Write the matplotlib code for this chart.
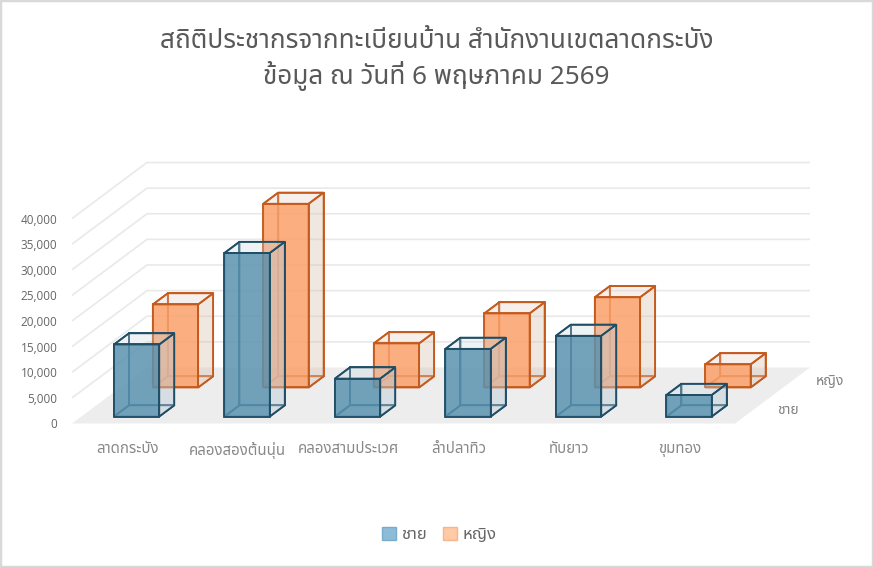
import matplotlib
matplotlib.use("Agg")
import matplotlib.pyplot as plt
from matplotlib import font_manager
from matplotlib.ft2font import FT2Font
from matplotlib.patches import Polygon, Patch, Rectangle

# Data
categories = ["ลาดกระบัง", "คลองสองต้นนุ่น", "คลองสามประเวศ", "ลำปลาทิว", "ทับยาว", "ขุมทอง"]
series_names = ["ชาย", "หญิง"]
male = [14050, 31900, 7400, 13200, 15750, 4200]
female = [16200, 35850, 8600, 14450, 17600, 4500]
yticks = [0, 5000, 10000, 15000, 20000, 25000, 30000, 35000, 40000]
title = "สถิติประชากรจากทะเบียนบ้าน สำนักงานเขตลาดกระบัง\nข้อมูล ณ วันที่ 6 พฤษภาคม 2569"


# Find an installed font that has Thai glyphs
def find_thai_font():
    preferred = ["Leelawadee UI", "Noto Sans Thai", "Noto Sans Thai UI", "Tahoma",
                 "Loma", "Garuda", "Sarabun", "Kinnari", "Norasi", "Umpush", "Waree"]
    found = []
    for f in font_manager.fontManager.ttflist:
        try:
            if 0x0E01 in FT2Font(f.fname).get_charmap():
                found.append(f.name)
        except Exception:
            pass
    for name in preferred:
        if name in found:
            return name
    return found[0] if found else None


thai = find_thai_font()
families = ([thai] if thai else []) + ["Open Sans", "DejaVu Sans"]
plt.rcParams["font.family"] = families

W, H = 873, 567
fig = plt.figure(figsize=(W / 100, H / 100), dpi=100)

# the axes is the front plane of the 3D box: x in categories, y in values
x0px, x1px, y0px, y1px = 72, 735, 423.5, 218.5
ax = fig.add_axes([x0px / W, 1 - y0px / H, (x1px - x0px) / W, (y0px - y1px) / H])
ncat = len(categories)
ax.set_xlim(0, ncat)
ax.set_ylim(0, 40000)
for s in ax.spines.values():
    s.set_visible(False)
ax.patch.set_alpha(0)

# depth offset of the full floor, in data units
px_per_cat = (x1px - x0px) / ncat
px_per_val = (y0px - y1px) / 40000
DX = 75 / px_per_cat
DY = 56 / px_per_val


def pt(x, d, v):
    return (x + d * DX, v + d * DY)


grid_c = "#e9e9e9"
floor = Polygon([pt(0, 0, 0), pt(ncat, 0, 0), pt(ncat, 1, 0), pt(0, 1, 0)],
                closed=True, fc="#ededed", ec="none", clip_on=False, zorder=1)
ax.add_patch(floor)
for v in yticks[1:]:
    ax.plot(*zip(pt(0, 0, v), pt(0, 1, v), pt(ncat, 1, v)), color=grid_c, lw=1.2,
            clip_on=False, zorder=1, solid_capstyle="butt")

bar_w = 0.41
bar_d = 0.2
depths = [0.125, 0.643]
styles = [
    dict(front="#5b93b0", side="#bcccd7", side_a=0.45, top="#c8d7e1", top_a=0.3,
         edge="#1f4e66"),
    dict(front="#fba06a", side="#dcc3b4", side_a=0.4, top="#e1c3b4", top_a=0.25,
         edge="#c55a1d"),
]


def draw_box(xc, d0, h, st, z):
    xa, xb = xc - bar_w / 2, xc + bar_w / 2
    d1 = d0 + bar_d
    ec = st["edge"]
    lw = 1.3
    back = [pt(xa, d1, 0), pt(xb, d1, 0), pt(xb, d1, h), pt(xa, d1, h)]
    left = [pt(xa, d0, 0), pt(xa, d1, 0), pt(xa, d1, h), pt(xa, d0, h)]
    bottom = [pt(xa, d0, 0), pt(xb, d0, 0), pt(xb, d1, 0), pt(xa, d1, 0)]
    front = [pt(xa, d0, 0), pt(xb, d0, 0), pt(xb, d0, h), pt(xa, d0, h)]
    right = [pt(xb, d0, 0), pt(xb, d1, 0), pt(xb, d1, h), pt(xb, d0, h)]
    top = [pt(xa, d0, h), pt(xb, d0, h), pt(xb, d1, h), pt(xa, d1, h)]
    for poly in (back, left, bottom):
        ax.add_patch(Polygon(poly, closed=True, fc="none", ec=ec, lw=lw,
                             clip_on=False, zorder=z, joinstyle="miter"))
    ax.add_patch(Polygon(front, closed=True, fc=st["front"], alpha=0.85, ec="none",
                         clip_on=False, zorder=z + 0.1))
    ax.add_patch(Polygon(right, closed=True, fc=st["side"], alpha=st["side_a"], ec="none",
                         clip_on=False, zorder=z + 0.1))
    ax.add_patch(Polygon(top, closed=True, fc=st["top"], alpha=st["top_a"], ec="none",
                         clip_on=False, zorder=z + 0.1))
    for poly in (front, right, top):
        ax.add_patch(Polygon(poly, closed=True, fc="none", ec=ec, lw=lw,
                             clip_on=False, zorder=z + 0.2, joinstyle="miter"))


# back series first, then front series
for si, vals in [(1, female), (0, male)]:
    for i, v in enumerate(vals):
        draw_box(i + 0.5, depths[si], v, styles[si], z=3 + (1 - si) * 2)

# value axis
ax.set_yticks(yticks)
ax.set_yticklabels([f"{v:,}" for v in yticks], family=["Open Sans", "DejaVu Sans"])
ax.tick_params(axis="y", length=0, pad=10.5, labelsize=8.5, labelcolor="#666666")

# category axis
ax.set_xticks([i + 0.5 for i in range(ncat)])
ax.set_xticklabels(categories)
ax.tick_params(axis="x", length=0, pad=13, labelsize=10.8, labelcolor="#888888")

# series names along the right edge of the floor
for si, name in enumerate(series_names):
    dc = depths[si] + bar_d / 2
    x, y = pt(ncat, dc, 0)
    ax.text(x + 25 / px_per_cat, y, name, ha="left", va="center", fontsize=10,
            color="#808080", clip_on=False)

fig.text(0.5, 1 - 60 / H, title, ha="center", va="center", fontsize=18.8,
         color="#595959", linespacing=1.3)

handles = [Patch(fc="#8cbcd8", ec="#78acc9", label=series_names[0]),
           Patch(fc="#ffcaa5", ec="#f8b48a", label=series_names[1])]
fig.legend(handles=handles, loc="center", bbox_to_anchor=(0.503, 1 - 535 / H), ncol=2,
           frameon=False, fontsize=12, labelcolor="#666666", handlelength=0.85,
           handleheight=0.85, handletextpad=0.3, columnspacing=1.0)

fig.patches.append(Rectangle((0, 0), 1, 1, transform=fig.transFigure, fill=False,
                             ec="#d9d9d9", lw=2.5))

fig.savefig("out.png", dpi=100)
